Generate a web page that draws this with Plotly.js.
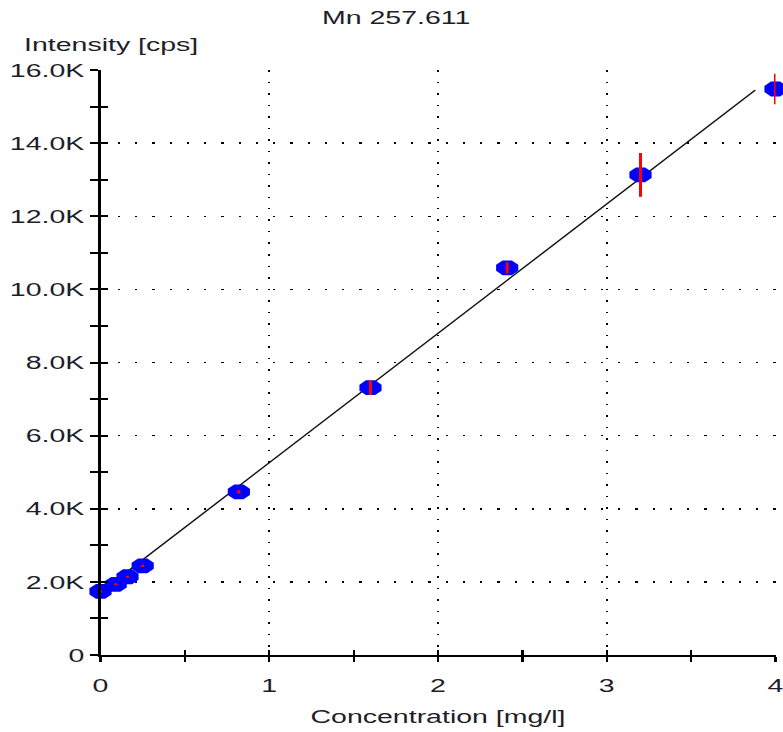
<!DOCTYPE html>
<html>
<head>
<meta charset="utf-8">
<script src="https://cdn.plot.ly/plotly-3.0.1.min.js"></script>
<style>
html,body{margin:0;padding:0;background:#fff;overflow:hidden;}
#wrap{width:522px;height:732px;transform:scaleX(1.5);transform-origin:0 0;}
</style>
</head>
<body>
<div id="wrap"><div id="chart" style="width:522px;height:732px;"></div></div>
<script>
// Standards (concentration, mg/l) and measured intensity (cps)
const concentration = [0, 0.09, 0.16, 0.25, 0.82, 1.6, 2.41, 3.2, 4.0];
const intensity = [1740, 1930, 2140, 2440, 4460, 7310, 10590, 13130, 15480];
const intensityErr = [30, 30, 30, 30, 50, 200, 150, 600, 420];
// Calibration fit line end points
const fitX = [0, 3.88];
const fitY = [1720, 15450];
// Axis ticks
const xTickVals = [0, 1, 2, 3, 4];
const xTickText = ["0", "1", "2", "3", "4"];
const yTickVals = [0, 2000, 4000, 6000, 8000, 10000, 12000, 14000, 16000];
const yTickText = ["0", "2.0K", "4.0K", "6.0K", "8.0K", "10.0K", "12.0K", "14.0K", "16.0K"];

const fontFam = "Liberation Sans, Arial, sans-serif";
const txt = "#1e1e2a";

const traces = [
  {x: fitX, y: fitY, mode: "lines", line: {color: "#111", width: 1.2}, hoverinfo: "skip", xaxis: "x", yaxis: "y"},
  {x: concentration, y: intensity, mode: "markers", cliponaxis: false,
   marker: {color: "#0000ff", size: 16, symbol: "octagon", line: {width: 0}}, xaxis: "x", yaxis: "y"},
  {x: concentration, y: intensity, mode: "markers", cliponaxis: false,
   marker: {color: "rgba(0,0,0,0)", size: 1},
   error_y: {type: "data", array: intensityErr, visible: true, color: "#ff0000", thickness: 2, width: 0},
   xaxis: "x2", yaxis: "y2", hoverinfo: "skip"}
];

const gridCommon = {showgrid: true, gridcolor: "#000", gridwidth: 1.5, griddash: "1.5px,10px"};

const layout = {
  width: 522, height: 732,
  margin: {l: 67.3, r: 4.7, t: 70, b: 77},
  paper_bgcolor: "#fff", plot_bgcolor: "#fff",
  showlegend: false,
  font: {family: fontFam, size: 19, color: txt},
  title: {text: "Mn 257.611", x: 0.506, xref: "container", xanchor: "center",
          y: 0.976, yref: "container", yanchor: "middle", font: {size: 19, color: txt}},
  xaxis: Object.assign({}, gridCommon, {
    range: [0, 4], tickmode: "array", tickvals: xTickVals, ticktext: xTickText,
    ticks: "outside", ticklen: 5, tickwidth: 1.5, tickcolor: "#000",
    minor: {tickmode: "linear", tick0: 0, dtick: 0.5, ticks: "outside", ticklen: 5, tickwidth: 1.5, tickcolor: "#000", showgrid: false},
    showline: true, linecolor: "#000", linewidth: 2, zeroline: false,
    ticklabelstandoff: 7, ticklabeloverflow: "allow",
    title: {text: "Concentration [mg/l]", standoff: 15, font: {size: 19, color: txt}},
    fixedrange: true
  }),
  yaxis: Object.assign({}, gridCommon, {
    range: [0, 16000], tickmode: "array", tickvals: yTickVals, ticktext: yTickText,
    ticks: "outside", ticklen: 5, tickwidth: 2, tickcolor: "#000",
    minor: {tickmode: "linear", tick0: 0, dtick: 1000, ticks: "outside", ticklen: 5, tickwidth: 2, tickcolor: "#000", showgrid: false},
    showline: true, linecolor: "#000", linewidth: 2, zeroline: false,
    ticklabelstandoff: 0, ticklabeloverflow: "allow",
    fixedrange: true
  }),
  xaxis2: {
    overlaying: "x", matches: "x", range: [0, 4], tickmode: "array", tickvals: xTickVals,
    showticklabels: false, ticks: "inside", ticklen: 5, tickwidth: 1.5, tickcolor: "#000",
    minor: {tickmode: "linear", tick0: 0, dtick: 0.5, ticks: "inside", ticklen: 5, tickwidth: 1.5, tickcolor: "#000", showgrid: false},
    showgrid: false, showline: false, zeroline: false, fixedrange: true
  },
  yaxis2: {
    overlaying: "y", matches: "y", range: [0, 16000], tickmode: "array", tickvals: yTickVals,
    showticklabels: false, ticks: "inside", ticklen: 5, tickwidth: 2, tickcolor: "#000",
    minor: {tickmode: "linear", tick0: 0, dtick: 1000, ticks: "inside", ticklen: 5, tickwidth: 2, tickcolor: "#000", showgrid: false},
    showgrid: false, showline: false, zeroline: false, fixedrange: true
  },
  annotations: [
    {text: "Intensity [cps]", xref: "paper", yref: "paper", x: -0.117, y: 1.0444,
     xanchor: "left", yanchor: "middle", showarrow: false, font: {size: 19, color: txt}}
  ]
};

Plotly.newPlot("chart", traces, layout, {staticPlot: true, displayModeBar: false});
</script>
</body>
</html>
